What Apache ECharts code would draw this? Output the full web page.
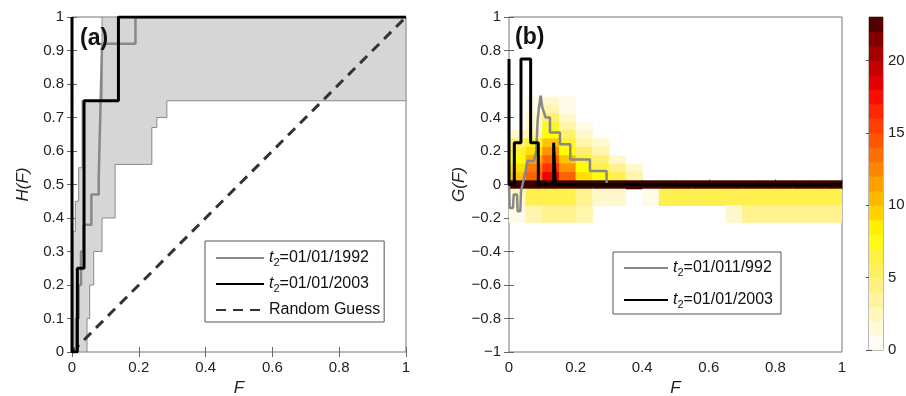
<!DOCTYPE html>
<html><head><meta charset="utf-8">
<script src="https://cdn.jsdelivr.net/npm/echarts@6/dist/echarts.min.js"></script>
<style>html,body{margin:0;padding:0;background:#fff}#c{width:906px;height:396px}</style>
</head><body><div id="c"></div>
<script>
// ---------------- data ----------------
// Panel (a): H(F)
const grayA_F = [0,0.012,0.012,0.02,0.02,0.027,0.027,0.035,0.035,0.058,0.058,0.08,0.08,0.085,0.085,0.09,0.09,0.19,0.19,1];
const grayA_H = [0,0,0.1,0.1,0.2,0.2,0.3,0.3,0.38,0.38,0.47,0.47,0.52,0.52,0.72,0.72,0.92,0.92,1,1];
const blackA_F = [0,0,0.016,0.016,0.036,0.036,0.139,0.139,1];
const blackA_H = [1,0,0,0.25,0.25,0.75,0.75,1,1];
const randomF = [0,1];
const randomH = [0,1];
const bandUpperF = [0,0.003,0.003,0.01,0.01,0.02,0.02,0.03,0.03,0.09,0.09,1];
const bandUpperH = [0,0,0.36,0.36,0.45,0.45,0.55,0.55,0.75,0.75,1,1];
const bandLowerF = [1,0.284,0.284,0.254,0.254,0.239,0.239,0.129,0.129,0.09,0.09,0.065,0.065,0.053,0.053,0.045,0.045];
const bandLowerH = [0.75,0.75,0.70,0.70,0.67,0.67,0.56,0.56,0.40,0.40,0.30,0.30,0.20,0.20,0.10,0.10,0];

// Panel (b): G(F)
const grayB_F = [0,0.002,0.012,0.014,0.024,0.026,0.034,0.036,0.05,0.055,0.075,0.082,0.086,0.09,0.095,0.1,0.105,0.11,0.123,0.123,0.153,0.153,0.184,0.184,0.243,0.243,0.293,0.293,1];
const grayB_G = [0,-0.14,-0.14,-0.06,-0.06,-0.16,-0.16,-0.04,0.08,0.14,0.14,0.2,0.38,0.46,0.53,0.46,0.46,0.4,0.4,0.31,0.31,0.24,0.24,0.15,0.15,0.08,0.08,0,0];
const blackB_F = [0,0,0.016,0.016,0.036,0.036,0.065,0.065,0.088,0.088,0.134,0.134,0.139,0.139,1];
const blackB_G = [0.75,0,0,0.25,0.25,0.75,0.75,0.25,0.25,0,0,0.25,0.25,0,0];

// heat map (counts) : F bin edges, G bin centres, counts per row
const heatFEdges = [0,0.05,0.1,0.15,0.2,0.25,0.3,0.35,0.4,0.45,0.5,0.55,0.6,0.65,0.7,0.75,0.8,0.85,0.9,0.95,1];
const heatGCenters = [0.5,0.45,0.4,0.35,0.3,0.25,0.2,0.15,0.1,0.05,0,-0.05,-0.1,-0.15,-0.2];
const heatGHalf = 0.025;
const heatCounts = [
  [0,1,2,1,0,0,0,0,0,0,0,0,0,0,0,0,0,0,0,0],
  [0,1,3,1,0,0,0,0,0,0,0,0,0,0,0,0,0,0,0,0],
  [0,2,5,2,0,0,0,0,0,0,0,0,0,0,0,0,0,0,0,0],
  [0,2,7,3,1,0,0,0,0,0,0,0,0,0,0,0,0,0,0,0],
  [2,3,8,5,2,0,0,0,0,0,0,0,0,0,0,0,0,0,0,0],
  [5,7,10,7,3,2,0,0,0,0,0,0,0,0,0,0,0,0,0,0],
  [7,9,12,8,5,3,0,0,0,0,0,0,0,0,0,0,0,0,0,0],
  [8,11,14,10,7,5,2,0,0,0,0,0,0,0,0,0,0,0,0,0],
  [9,13,16,12,8,6,4,2,0,0,0,0,0,0,0,0,0,0,0,0],
  [10,14,18,14,9,8,6,3,0,0,0,0,0,0,0,0,0,0,0,0],
  [23,23,23,23,23,23,23,23,23,23,23,23,23,23,23,23,23,23,23,23],
  [2,6,6,6,4,2,2,0,1,6,6,6,6,6,6,6,6,6,6,6],
  [2,6,6,6,4,2,2,0,1,6,6,6,6,6,6,6,6,6,6,6],
  [1,3,4,4,3,0,0,0,0,0,0,0,0,2,4,4,4,4,4,4],
  [1,3,4,4,3,0,0,0,0,0,0,0,0,2,4,4,4,4,4,4]
];
const cbarLevels = [0,1,2,3,4,5,6,7,8,9,10,11,12,13,14,15,16,17,18,19,20,21,22];
const hotColors = ['#ffffff','#fffbe6','#fff8cc','#fff5ad','#fff28f','#fff070','#fff050','#fff230','#ffff00','#ffe000','#ffc400','#ffab00','#ff9200','#ff7a00','#ff6200','#ff4a00','#ff3200','#ff1a00','#f00000','#d40000','#b40000','#940000','#700000','#3a0000'];

// ---------------- build ----------------
const zip = (a, b) => a.map((v, i) => [v, b[i]]);
const bandPoly = zip(bandUpperF, bandUpperH).concat(zip(bandLowerF, bandLowerH));
const heatData = [];
heatGCenters.forEach((g, r) => heatCounts[r].forEach((v, c) => {
  if (v > 0) heatData.push([heatFEdges[c], heatFEdges[c + 1], g - heatGHalf, g + heatGHalf, v]);
}));
const cbarData = cbarLevels.map(l => [0, 1, l, l + 1, l + 0.5]);

const FONT = 'Liberation Sans';
const fmt = v => { const r = Math.round(v * 100) / 100; return (r < 0 ? '\u2212' : '') + Math.abs(r); };
const tickStyle = { show: true, inside: true, length: 5, lineStyle: { color: '#666', width: 1 } };
function ax(extra) {
  return Object.assign({
    type: 'value', axisLine: { show: false }, axisTick: tickStyle, splitLine: { show: false },
    axisLabel: { show: true, fontFamily: FONT, fontSize: 15, color: '#222', margin: 8, formatter: fmt },
    nameTextStyle: { fontFamily: FONT, fontSize: 17, fontStyle: 'italic', color: '#222' }
  }, extra);
}
const noLab = { show: false };
function rectItem(params, api) {
  const p0 = api.coord([api.value(0), api.value(2)]);
  const p1 = api.coord([api.value(1), api.value(3)]);
  return { type: 'rect', shape: { x: p0[0], y: p1[1], width: p1[0] - p0[0] + 0.6, height: p0[1] - p1[1] + 0.6 },
    style: { fill: api.visual('color') } };
}
const richFmt = name => name.indexOf('t2') === 0 ? '{t|t}{s|2}{n|' + name.slice(2) + '}' : name;
const rich = {
  t: { fontFamily: FONT, fontSize: 16, fontStyle: 'italic', color: '#111' },
  s: { fontFamily: FONT, fontSize: 11, color: '#111', padding: [9, 0, 0, 0] },
  n: { fontFamily: FONT, fontSize: 16, color: '#111' }
};
const gridBox = { show: true, borderColor: '#777', borderWidth: 1, backgroundColor: 'transparent', containLabel: false, outerBoundsMode: 'none' };
const cbTick = { show: true, inside: true, length: 3, lineStyle: { color: '#555' } };

const chart = echarts.init(document.getElementById('c'), null, { renderer: 'canvas' });
chart.setOption({
  animation: false,
  backgroundColor: '#fff',
  grid: [
    Object.assign({ left: 72, top: 17, width: 334, height: 335 }, gridBox),
    Object.assign({ left: 509, top: 17, width: 333, height: 335 }, gridBox),
    Object.assign({ left: 869, top: 17, width: 14, height: 333 }, gridBox)
  ],
  xAxis: [
    ax({ gridIndex: 0, position: 'bottom', min: 0, max: 1, interval: 0.2, name: 'F', nameLocation: 'middle', nameGap: 28 }),
    ax({ gridIndex: 0, position: 'top', min: 0, max: 1, interval: 0.2, axisLabel: noLab }),
    ax({ gridIndex: 1, position: 'bottom', min: 0, max: 1, interval: 0.2, name: 'F', nameLocation: 'middle', nameGap: 28 }),
    ax({ gridIndex: 1, position: 'top', min: 0, max: 1, interval: 0.2, axisLabel: noLab }),
    ax({ gridIndex: 2, position: 'bottom', min: 0, max: 1, axisLabel: noLab, axisTick: { show: false } })
  ],
  yAxis: [
    ax({ gridIndex: 0, position: 'left', min: 0, max: 1, interval: 0.1, name: 'H(F)', nameLocation: 'middle', nameGap: 40 }),
    ax({ gridIndex: 0, position: 'right', min: 0, max: 1, interval: 0.1, axisLabel: noLab }),
    ax({ gridIndex: 1, position: 'left', min: -1, max: 1, interval: 0.2, name: 'G(F)', nameLocation: 'middle', nameGap: 37 }),
    ax({ gridIndex: 1, position: 'right', min: -1, max: 1, interval: 0.2, axisLabel: noLab }),
    ax({ gridIndex: 2, position: 'right', min: 0, max: 23, interval: 5,
         axisLabel: { show: true, fontFamily: FONT, fontSize: 15, color: '#222', margin: 5, showMaxLabel: false }, axisTick: cbTick }),
    ax({ gridIndex: 2, position: 'left', min: 0, max: 23, interval: 5, axisLabel: noLab, axisTick: cbTick })
  ],
  visualMap: [{ type: 'continuous', show: false, seriesIndex: [4, 7], dimension: 4, min: 0, max: 23, inRange: { color: hotColors } }],
  legend: [
    { orient: 'vertical', left: 205, top: 241, data: ['t2=01/01/1992', 't2=01/01/2003', 'Random Guess'],
      itemWidth: 48, itemHeight: 14, itemGap: 8, padding: [9, 4, 4, 10], borderColor: '#555', borderWidth: 1,
      backgroundColor: '#fff', selectedMode: false, formatter: richFmt, itemStyle: { opacity: 0 },
      textStyle: { fontFamily: FONT, fontSize: 16, color: '#111', rich: rich } },
    { orient: 'vertical', left: 613, top: 252, data: ['t2=01/011/992', 't2=01/01/2003'],
      itemWidth: 44, itemHeight: 14, itemGap: 14, padding: [8, 8, 4, 10], borderColor: '#555', borderWidth: 1,
      backgroundColor: '#fff', selectedMode: false, formatter: richFmt, itemStyle: { opacity: 0 },
      textStyle: { fontFamily: FONT, fontSize: 16, color: '#111', rich: rich } }
  ],
  graphic: [
    { type: 'text', left: 80, top: 27, z: 100, style: { text: '(a)', font: 'bold 23px "Liberation Sans"', fill: '#111' } },
    { type: 'text', left: 515, top: 26, z: 100, style: { text: '(b)', font: 'bold 23px "Liberation Sans"', fill: '#111' } }
  ],
  series: [
    { type: 'custom', name: 'band', xAxisIndex: 0, yAxisIndex: 0, data: [0], clip: true, silent: true,
      renderItem: (params, api) => ({ type: 'polygon', shape: { points: bandPoly.map(p => api.coord(p)) },
        style: { fill: '#d6d6d6', stroke: '#8a8a8a', lineWidth: 1 } }) },
    { type: 'line', name: 'Random Guess', xAxisIndex: 0, yAxisIndex: 0, data: zip(randomF, randomH), symbol: 'none',
      lineStyle: { color: '#333', width: 3, type: [10, 7] }, itemStyle: { color: '#333' } },
    { type: 'line', name: 't2=01/01/1992', xAxisIndex: 0, yAxisIndex: 0, data: zip(grayA_F, grayA_H), symbol: 'none',
      lineStyle: { color: '#888', width: 2.5 }, itemStyle: { color: '#888' } },
    { type: 'line', name: 't2=01/01/2003', xAxisIndex: 0, yAxisIndex: 0, data: zip(blackA_F, blackA_H), symbol: 'none',
      lineStyle: { color: '#000', width: 3 }, itemStyle: { color: '#000' } },
    { type: 'custom', name: 'heat', xAxisIndex: 2, yAxisIndex: 2, data: heatData, clip: true, silent: true, renderItem: rectItem },
    { type: 'line', name: 't2=01/011/992', xAxisIndex: 2, yAxisIndex: 2, data: zip(grayB_F, grayB_G), symbol: 'none',
      lineStyle: { color: '#888', width: 2.5 }, itemStyle: { color: '#888' } },
    { type: 'line', name: 't2=01/01/2003', xAxisIndex: 2, yAxisIndex: 2, data: zip(blackB_F, blackB_G), symbol: 'none',
      lineStyle: { color: '#000', width: 3 }, itemStyle: { color: '#000' } },
    { type: 'custom', name: 'cbar', xAxisIndex: 4, yAxisIndex: 4, data: cbarData, clip: true, silent: true, renderItem: rectItem }
  ]
});
</script></body></html>
